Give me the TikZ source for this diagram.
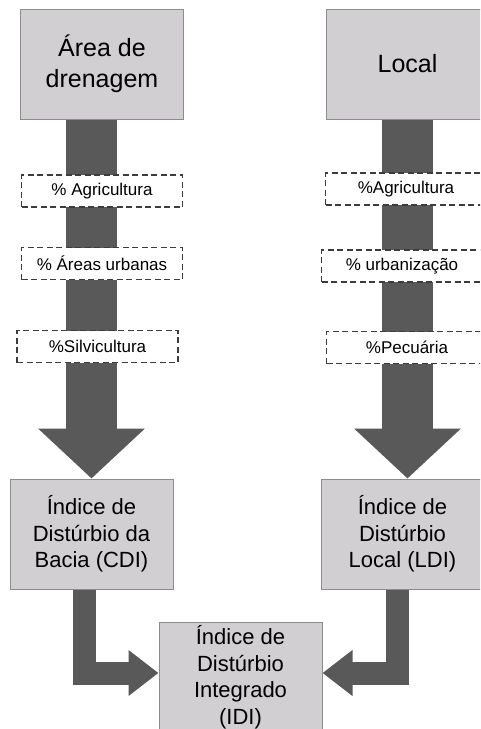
\documentclass[tikz,border=0pt]{standalone}
\usepackage{fontspec}
\setmainfont{Liberation Sans}
\usepackage{tikz}
\usetikzlibrary{shapes,arrows.meta,positioning,backgrounds}
\definecolor{boxgray}{RGB}{209,207,209}
\definecolor{boxline}{RGB}{140,140,140}
\definecolor{arrowgray}{RGB}{89,89,89}
\definecolor{dashline}{RGB}{60,60,60}
\tikzstyle{source} = [rectangle, minimum width=163pt, minimum height=110pt, text centered, align=center, draw=boxline, line width=1pt, fill=boxgray, font=\fontsize{25}{31}\selectfont]
\tikzstyle{index} = [rectangle, minimum width=163pt, minimum height=110pt, text centered, align=center, draw=boxline, line width=1pt, fill=boxgray, font=\fontsize{22}{26.5}\selectfont]
\tikzstyle{factor} = [rectangle, minimum width=161pt, minimum height=32pt, text centered, draw=dashline, dash pattern=on 6pt off 3.5pt, line width=1.1pt, fill=white, font=\fontsize{17}{20}\selectfont]
\tikzstyle{bigarrow} = [line width=51pt, draw=arrowgray, -{Triangle[length=50pt,width=104pt]}]
\tikzstyle{elbow} = [line width=23pt, draw=arrowgray, -{Triangle[length=30pt,width=44pt]}]

\begin{document}
\begin{tikzpicture}[node distance=80pt]
\useasboundingbox (0,0) rectangle (480pt,-729pt);
\clip (0,0) rectangle (480pt,-729pt);

\node (area) [source] at (102pt,-64pt) {Área de\\drenagem};
\node (local) [source,right of=area,xshift=225.5pt] {Local};

\node (agri1) [factor,below of=area,yshift=-47pt] {\% Agricultura};
\node (urb1) [factor,below of=agri1,yshift=7.5pt] {\% Áreas urbanas};
\node (silv) [factor,below of=urb1,yshift=-3pt,xshift=-4.5pt] {\%Silvicultura};
\node (cdi) [index,below of=silv,yshift=-107.5pt,xshift=-6pt] {Índice de\\Distúrbio da\\Bacia (CDI)};

\node (agri2) [factor,below of=local,yshift=-45pt,xshift=-1.5pt] {\%Agricultura};
\node (urb2) [factor,below of=agri2,yshift=3pt,xshift=-4pt] {\% urbanização};
\node (pec) [factor,below of=urb2,yshift=-1.5pt,xshift=5pt] {\%Pecuária};
\node (ldi) [index,below of=pec,yshift=-106.5pt,xshift=-4.5pt] {Índice de\\Distúrbio\\Local (LDI)};

\node (idi) [index,below of=cdi,yshift=-63pt,xshift=149pt] {Índice de\\Distúrbio\\Integrado\\(IDI)};

\begin{pgfonlayer}{background}
\draw [bigarrow] (area.south -| cdi.north) -- (cdi.north);
\draw [bigarrow] (local.south) -- (local.south |- ldi.north);
\draw [elbow] ([xshift=-7pt]cdi.south) |- ([yshift=4pt]idi.west);
\draw [elbow] ([xshift=-5.5pt]ldi.south) |- ([yshift=4pt]idi.east);
\end{pgfonlayer}

\end{tikzpicture}
\end{document}
